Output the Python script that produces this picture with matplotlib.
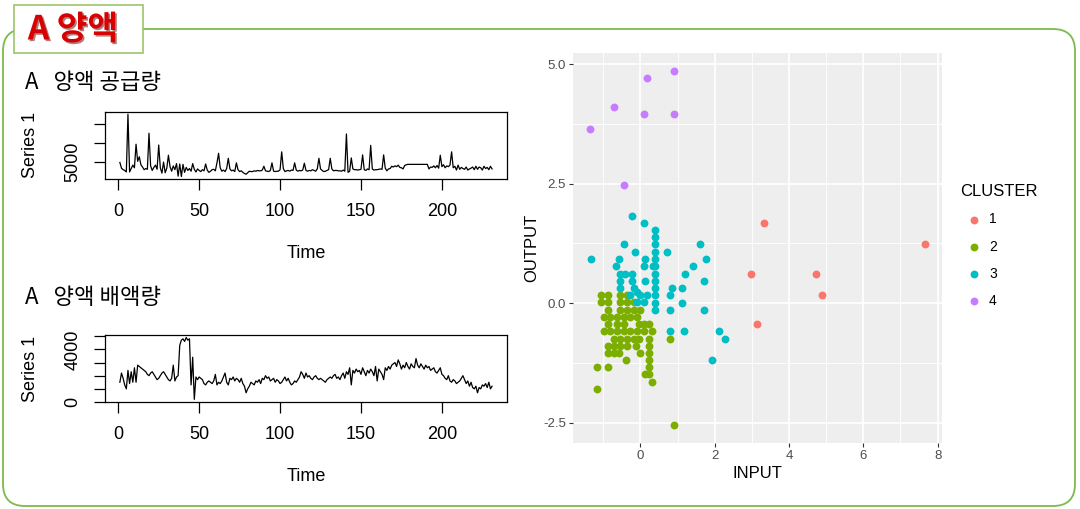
import matplotlib
matplotlib.use("Agg")
import numpy as np
import matplotlib.pyplot as plt
import matplotlib.patheffects as pe
from matplotlib.patches import FancyBboxPatch, Rectangle
from matplotlib.ticker import MultipleLocator, FormatStrFormatter

plt.rcParams["font.family"] = ["Liberation Sans", "Noto Sans CJK KR", "DejaVu Sans"]

# 양액 공급량 (supply), one value per time step
supply = [
    4900, 3400, 3000, 2800, 2400, 17600, 2400, 3300, 4200, 3500,
    9700, 5200, 6400, 4300, 3700, 3000, 3300, 3100, 12600, 4000,
    2800, 3600, 4200, 3100, 9500, 3500, 2100, 5000, 2200, 3400,
    6800, 3800, 2600, 4000, 3000, 4600, 1300, 4500, 1200, 4400,
    2300, 3600, 2800, 3300, 2600, 4600, 3100, 2400, 3200, 2800,
    2500, 3000, 2700, 4500, 2900, 2300, 2600, 3000, 3100, 2700,
    4800, 7300, 3500, 2600, 2900, 2500, 3300, 6000, 3200, 2700,
    2900, 2500, 4800, 3000, 2500, 2700, 2300, 2000, 1800, 2200,
    2600, 2500, 2500, 2700, 2600, 2800, 2700, 2700, 2900, 3900,
    2700, 2600, 2500, 2800, 4800, 2600, 2500, 2600, 2600, 3000,
    7700, 3300, 2500, 2700, 2800, 2600, 2900, 2800, 4800, 2900,
    2600, 2800, 2700, 2900, 4700, 2800, 2600, 2800, 2700, 3000,
    2800, 2600, 3200, 6000, 3200, 2800, 2500, 2600, 2800, 3000,
    6000, 3200, 2700, 2800, 2800, 2700, 2700, 2600, 2900, 2600,
    12400, 2300, 2600, 6100, 3200, 3000, 3000, 2900, 3000, 3100,
    6900, 3000, 2800, 3200, 3000, 9400, 3200, 2900, 3000, 3000,
    3100, 3200, 3100, 6900, 3400, 2700, 3200, 3300, 3900, 3700,
    4000, 3800, 4200, 3600, 3500, 3200, 4100, 4300, 4400, 4400,
    4400, 4400, 4400, 4400, 4400, 4400, 4400, 4400, 4400, 4400,
    4400, 3200, 3700, 3600, 4000, 3500, 4100, 3400, 6800, 3800,
    4300, 3500, 4000, 3800, 4200, 7700, 3500, 3900, 2900, 4200,
    3100, 3600, 3300, 3100, 3700, 2900, 3200, 3400, 3700, 3000,
    3900, 3100, 3700, 3500, 2900, 3900, 3300, 3600, 3000, 3900,
    3200,
]

# 양액 배액량 (drainage)
drain = [
    1500, 2200, 1800, 1300, 1000, 2400, 1400, 2300, 1500, 2600,
    1500, 2800, 2700, 2600, 2500, 2400, 2300, 2100, 2000, 2200,
    2300, 2100, 1900, 1700, 1800, 2000, 2200, 2300, 2100, 1900,
    1700, 1600, 1800, 2800, 1600, 1900, 2000, 4300, 4700, 4800,
    4600, 4900, 4700, 4800, 1300, 3400, 200, 1900, 1700, 1900,
    1800, 1700, 1400, 1300, 1500, 1600, 1500, 1400, 1600, 2100,
    1300, 1500, 1400, 1600, 1900, 2200, 1500, 1300, 1800, 1700,
    1900, 1600, 1800, 1700, 1500, 1800, 1400, 1200, 700, 1000,
    1200, 1500, 1400, 1300, 1600, 1500, 1700, 1400, 1800, 1700,
    2000, 1800, 1900, 1600, 1700, 1800, 1500, 1700, 1600, 1400,
    1500, 1700, 1900, 1600, 1800, 1500, 1300, 1400, 1600, 1500,
    1700, 1900, 2300, 2100, 1800, 2200, 1900, 2000, 1800, 1700,
    1900, 2000, 1800, 1700, 1800, 1700, 1600, 1500, 1700, 1800,
    1900, 1800, 2000, 2100, 1800, 1900, 1700, 2000, 2200, 1800,
    2300, 2100, 2600, 1300, 2400, 2200, 2500, 2300, 2400, 2100,
    2600, 2300, 2000, 2400, 2200, 2500, 2300, 2000, 2700, 1600,
    2500, 2300, 2100, 1700, 2600, 2400, 2700, 2500, 2800, 2900,
    3000, 2700, 3200, 2900, 2500, 2800, 2600, 3000, 2700, 2500,
    2900, 2700, 2600, 3300, 2800, 2600, 2900, 2700, 2500, 2800,
    2600, 2700, 2400, 2500, 2600, 2300, 2200, 2400, 2600, 2100,
    2000, 1800, 1700, 2000, 1600, 1500, 1700, 1600, 1400, 1500,
    1600, 1800, 2000, 1700, 1400, 1600, 1200, 1500, 1100, 1000,
    1200, 700, 1100, 1000, 1300, 1200, 1400, 1100, 1500, 1000,
    1200,
]

# k-means clusters (INPUT, OUTPUT)
c1_input = [3.32, 2.98, 4.72, 4.90, 3.15, 7.66]
c1_output = [1.68, 0.61, 0.61, 0.17, -0.44, 1.24]

c2_input = [-1.07, -0.88, -0.54, -0.36,
            -1.07, -0.88, -0.54, -0.36, -0.18,
            -0.88, -0.54, -0.36, -0.18, 0.00,
            -0.99, -0.81, -0.63, -0.45, -0.27, -0.09,
            -0.88, -0.63, -0.45, -0.04, 0.11, 0.22,
            -0.99, -0.81, -0.63, -0.45, -0.27, -0.09, 0.11, 0.31,
            -0.72, -0.54, -0.36, -0.18, -0.04, 0.22, 0.81,
            -0.88, -0.72, -0.54, -0.36, -0.13, 0.22,
            -0.88, -0.72, -0.58, 0.00, 0.22,
            -0.38, 0.22,
            -1.16, -0.88, 0.22,
            0.13, 0.22,
            0.31, -1.16, 0.91]
c2_output = [0.17, 0.17, 0.17, 0.17,
             0.02, 0.02, 0.02, 0.02, 0.02,
             -0.14, -0.14, -0.14, -0.14, -0.14,
             -0.29, -0.29, -0.29, -0.29, -0.29, -0.29,
             -0.44, -0.44, -0.44, -0.44, -0.44, -0.44,
             -0.59, -0.59, -0.59, -0.59, -0.59, -0.59, -0.59, -0.59,
             -0.74, -0.74, -0.74, -0.74, -0.74, -0.74, -0.74,
             -0.90, -0.90, -0.90, -0.90, -0.90, -0.90,
             -1.04, -1.04, -1.04, -1.04, -1.04,
             -1.19, -1.19,
             -1.34, -1.34, -1.34,
             -1.49, -1.49,
             -1.64, -1.79, -2.55]

c3_input = [-0.22, 0.09, 0.40, 0.40, 0.40, 0.40, 0.40, 0.40, -0.45, -0.15,
            0.73, 1.61, 1.77, -1.33, -0.58, 0.12, -0.65, 0.09, 0.34, 1.43,
            -0.56, -0.40, -0.22, 0.40, 1.21, 0.12, -0.54, -0.54, -0.22, -0.18,
            -0.09, 0.00, -0.27, 0.18, -0.09, 0.09, 0.40, 0.40, 0.40, 0.40,
            0.40, 0.85, 0.81, 1.12, 1.12, 0.81, 1.70, 1.72, 0.79, 1.17,
            2.13, 2.28, 1.93]
c3_output = [1.83, 1.68, 1.53, 1.38, 1.23, 1.08, 0.93, 0.78, 1.23, 1.08,
             1.08, 1.23, 0.93, 0.93, 0.93, 0.93, 0.78, 0.78, 0.78, 0.78,
             0.62, 0.62, 0.62, 0.62, 0.62, 0.46, 0.46, 0.31, 0.46, 0.31,
             0.24, 0.17, 0.17, 0.17, 0.02, 0.02, 0.46, 0.31, 0.17, 0.00,
             -0.14, 0.31, 0.17, 0.31, 0.00, -0.14, 0.46, -0.14, -0.59, -0.59,
             -0.59, -0.74, -1.19]

c4_input = [-1.36, -0.72, 0.18, 0.09, 0.91, 0.91, -0.43]
c4_output = [3.65, 4.10, 4.71, 3.95, 4.86, 3.95, 2.47]

clusters = ["1", "2", "3", "4"]
cluster_colors = ["#F8766D", "#7CAE00", "#00BFC4", "#C77CFF"]

kr = ["Noto Sans CJK KR", "DejaVu Sans"]

fig = plt.figure(figsize=(10.8, 5.09), dpi=100)

# background layer in pixel units: border box, title tab, subtitles
bg = fig.add_axes([0, 0, 1, 1])
bg.set_xlim(0, 1080)
bg.set_ylim(509, 0)
bg.axis("off")
bg.add_patch(FancyBboxPatch((3, 29), 1072, 477, boxstyle="round,pad=0,rounding_size=22",
                            fc="none", ec="#7DBA4A", lw=1.3))
bg.add_patch(Rectangle((14, 5), 129, 48, fc="white", ec="#9CC46A", lw=1.2, zorder=3))
bg.text(73, 30, "A 양액", fontsize=24, fontweight="bold", color="#D80000", family=kr,
        ha="center", va="center", zorder=4,
        path_effects=[pe.SimplePatchShadow(offset=(1.2, -1.2), shadow_rgbFace="#600000", alpha=0.5),
                      pe.Normal()])
bg.text(25, 82, "A   양액 공급량", fontsize=16, family=kr, ha="left", va="center")
bg.text(25, 298, "A   양액 배액량", fontsize=16, family=kr, ha="left", va="center")

time = np.arange(1, len(supply) + 1)


def ts_axes(rect, values, yticks, ylabels):
    ax = fig.add_axes(rect)
    ax.plot(time, values, color="black", lw=0.9)
    ax.margins(x=0.04, y=0.04)
    ax.set_xticks([0, 50, 100, 150, 200])
    ax.set_yticks(yticks)
    ax.set_yticklabels(ylabels, rotation=90, va="center")
    ax.tick_params(direction="out", length=8, width=0.9, labelsize=13, pad=9, colors="black")
    for s in ax.spines.values():
        s.set_linewidth(0.9)
    ax.set_xlabel("Time", fontsize=13, labelpad=18)
    ax.set_ylabel("Series 1", fontsize=13, labelpad=18)
    return ax


ts_axes([0.0972, 0.6483, 0.3722, 0.1322], supply, [5000, 10000, 15000], ["5000", "", ""])
ts_axes([0.0972, 0.2102, 0.3722, 0.1316], drain,
        [0, 1000, 2000, 3000, 4000, 5000], ["0", "", "", "", "4000", ""])

# scatter of clusters, ggplot look
ax = fig.add_axes([0.5306, 0.1303, 0.3414, 0.765])
ax.set_facecolor("#EEEEEE")
ax.set_axisbelow(True)
for s in ax.spines.values():
    s.set_visible(False)
xs = [c1_input, c2_input, c3_input, c4_input]
ys = [c1_output, c2_output, c3_output, c4_output]
for lab, col, xv, yv in zip(clusters, cluster_colors, xs, ys):
    ax.scatter(xv, yv, s=32, color=col, label=lab, linewidths=0)
ax.margins(0.05)
ax.xaxis.set_major_locator(MultipleLocator(2))
ax.xaxis.set_minor_locator(MultipleLocator(1))
ax.yaxis.set_major_locator(MultipleLocator(2.5))
ax.yaxis.set_minor_locator(MultipleLocator(1.25))
ax.yaxis.set_major_formatter(FormatStrFormatter("%.1f"))
ax.grid(which="major", color="white", lw=1.2)
ax.grid(which="minor", color="white", lw=0.6)
ax.tick_params(which="major", length=3, width=0.8, color="#333333", labelcolor="#4D4D4D",
               labelsize=9.5, pad=2)
ax.tick_params(which="minor", length=0)
ax.set_xlabel("INPUT", fontsize=12, labelpad=3)
ax.set_ylabel("OUTPUT", fontsize=12, labelpad=3)
ax.legend(title="CLUSTER", loc="center left", bbox_to_anchor=(1.015, 0.505), frameon=False,
          fontsize=10, title_fontsize=12, alignment="left", handletextpad=0.1,
          labelspacing=0.95, scatterpoints=1)

fig.savefig("out.png", dpi=100)
